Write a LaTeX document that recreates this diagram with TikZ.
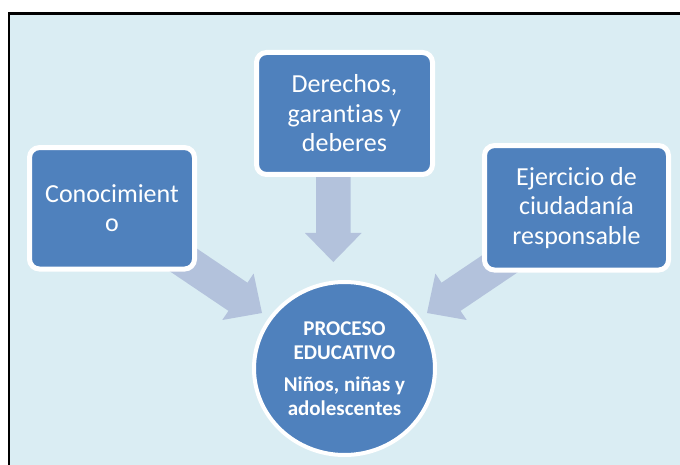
\documentclass[tikz,border=0pt]{standalone}
\usepackage{fontspec}
\setmainfont{Carlito}[Ligatures={NoCommon}]
\usetikzlibrary{shapes.geometric}
\definecolor{bgc}{HTML}{DAEDF3}
\definecolor{boxc}{HTML}{4F81BD}
\definecolor{arrc}{HTML}{B3C2DC}
\begin{document}
\begin{tikzpicture}[x=1pt,y=-1pt,
  box/.style={draw=white, line width=5pt, fill=boxc, rounded corners=10pt, inner sep=0pt,
    text=white, align=center, font=\fontsize{26}{29.5}\selectfont},
  hub/.style={ellipse, draw=white, line width=4pt, fill=boxc, inner sep=0pt,
    text=white, align=center, font=\fontsize{21}{24}\selectfont\bfseries},
  blockarrow/.style={fill=arrc}]
\useasboundingbox (0,0) rectangle (680,465);
\clip (0,0) rectangle (680,465);
\fill[white] (0,0) rectangle (680,465);
\draw[fill=bgc, line width=2.5pt] (9,13.7) rectangle (700,490);

% named anchor points of the block arrows
\coordinate (tipL) at (262,313);
\coordinate (tipM) at (333.3,262);
\coordinate (tipR) at (427,313);

% block arrows (drawn below the boxes)
\begin{scope}[shift={(tipL)}, rotate=-34]
  \fill[blockarrow] (0,0) -- (-29,28) -- (-29,17) -- (-130,17) -- (-130,-17) -- (-29,-17) -- (-29,-28) -- cycle;
\end{scope}
\begin{scope}[shift={(tipM)}, rotate=-90]
  \fill[blockarrow] (0,0) -- (-29,28.3) -- (-29,17.3) -- (-120,17.3) -- (-120,-17.3) -- (-29,-17.3) -- (-29,-28.3) -- cycle;
\end{scope}
\begin{scope}[shift={(tipR)}, rotate=-146]
  \fill[blockarrow] (0,0) -- (-29,28) -- (-29,17) -- (-130,17) -- (-130,-17) -- (-29,-17) -- (-29,-28) -- cycle;
\end{scope}

% boxes
\node[box, minimum width=165pt, minimum height=121.5pt] (c) at (112,208.3) {Conocimient\\o};
\node[box, minimum width=176pt, minimum height=122pt] (d) at (344.5,113.5) {Derechos,\\garantias y\\deberes};
\node[box, minimum width=184pt, minimum height=124.5pt] (e) at (576.5,207.8) {Ejercicio de\\ciudadanía\\responsable};

% hub
\node[hub, minimum width=181pt, minimum height=173pt] (p) at (344.5,368.5)
  {PROCESO\\EDUCATIVO\\[8pt]Niños, niñas y\\adolescentes};
\end{tikzpicture}
\end{document}
